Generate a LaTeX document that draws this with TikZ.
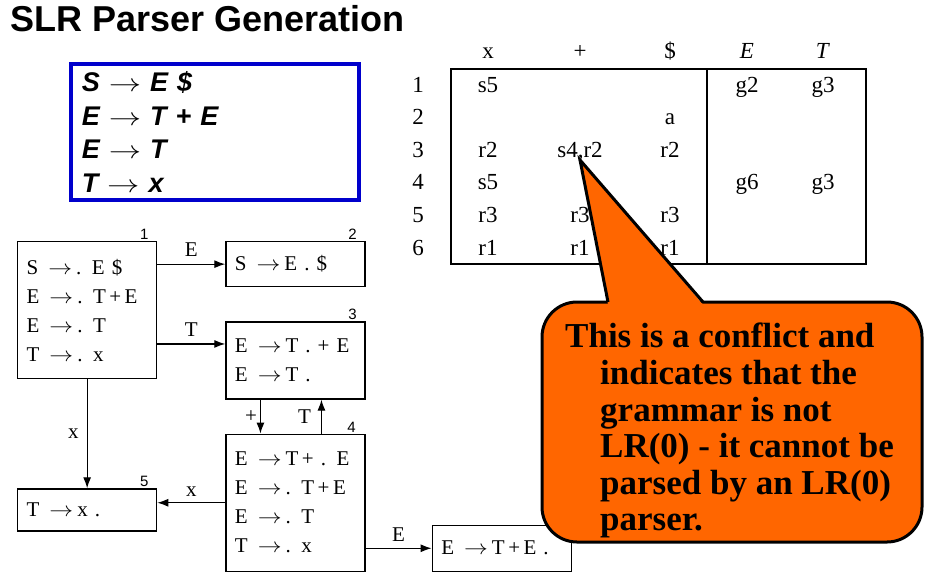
\documentclass[tikz,border=0pt]{standalone}
\usepackage{fontspec}
\setmainfont{Liberation Serif}
\setsansfont{Liberation Sans}
\usepackage{xcolor}
\usetikzlibrary{arrows.meta, positioning}
\definecolor{gramBlue}{RGB}{0,0,204}
\definecolor{noteOrange}{RGB}{255,102,0}
\newcommand{\pto}{\hspace{10pt}\scalebox{1.15}[1]{$\rightarrow$}\hspace{4pt}}
\newcommand{\gto}{\scalebox{1.3}[1]{$\rightarrow$}}

\begin{document}
\begin{tikzpicture}[
    x=1pt, y=-1pt,
    font=\fontsize{21}{29}\selectfont,
    state/.style={draw, line width=1.3pt, text width=121pt, inner xsep=9pt, inner ysep=0pt, align=left, anchor=north west},
    num/.style={font=\fontsize{15}{15}\sffamily, anchor=south, inner sep=1pt},
    lbl/.style={font=\fontsize{21}{21}\selectfont, inner sep=2pt},
    cell/.style={font=\fontsize{23}{23}\selectfont, anchor=base, inner sep=0pt},
    arrow/.style={-{Latex[length=11pt, width=8pt]}, line width=1.2pt}
  ]
    \fill[white] (0,0) rectangle (925,587);
    \node[anchor=base west, inner sep=0pt, font=\fontsize{36}{36}\sffamily\bfseries] (title) at (10,31) {SLR Parser Generation};

    % grammar
    \node[draw=gramBlue, line width=3.5pt, anchor=north west, minimum height=136pt, text width=266pt, inner xsep=11pt, align=left,
      font=\fontsize{27}{33.5}\sffamily\bfseries\itshape] (gram) at (69,62)
      {S \gto{} E \$\\ E \gto{} T + E\\ E \gto{} T\\ T \gto{} x};

    % parse table
    \draw[line width=1.2pt] (451,69) rectangle (866,264);
    \draw[line width=1.2pt] (707,69) -- (707,264);
    \foreach \name/\x/\t in {hx/488/x, hp/580/+, hd/670/\$, hE/747/\textit{E}, hT/823/\textit{T}}
      \node[cell] (\name) at (\x,58) {\t};
    \foreach \i in {1,...,6}
      \node[cell] (row\i) at (418,59.4+32.6*\i) {\i};
    \foreach \i/\x/\t in {1/488/s5, 1/747/g2, 1/823/g3, 2/670/a, 3/488/r2, 3/580/{s4,r2}, 3/670/r2,
        4/488/s5, 4/747/g6, 4/823/g3, 5/488/r3, 5/580/r3, 5/670/r3, 6/488/r1, 6/580/r1, 6/670/r1}
      \node[cell] (c\i-\x) at (\x,59.4+32.6*\i) {\t};

    % LR(0) states
    \node[state, minimum height=137pt] (s1) at (17,241) {S\pto . E \$\\ E\pto . T\,+\,E\\ E\pto . T\\ T\pto . x};
    \node[state, minimum height=45pt, right=68pt of s1.north east, anchor=north west] (s2) {S\pto E . \$};
    \node[state, minimum height=77pt, below=34pt of s2.south west, anchor=north west] (s3) {E\pto T . + E\\ E\pto T .};
    \node[state, minimum height=137pt, below=34pt of s3.south west, anchor=north west] (s4) {E\pto T\,+ . E\\ E\pto . T\,+\,E\\ E\pto . T\\ T\pto . x};
    \node[state, minimum height=42pt, below=109pt of s1.south west, anchor=north west] (s5) {T\pto x .};
    \node[state, minimum height=46pt, right=66pt of s4.south east, anchor=south west] (s6) {E\pto T\,+\,E .};

    \node[num] (n1) at ([xshift=-13pt]s1.north east) {1};
    \node[num] (n2) at ([xshift=-13pt]s2.north east) {2};
    \node[num] (n3) at ([xshift=-13pt]s3.north east) {3};
    \node[num] (n4) at ([xshift=-14pt]s4.north east) {4};
    \node[num] (n5) at ([xshift=-13pt]s5.north east) {5};

    \coordinate (t3) at ([yshift=16.5pt]s3.west);
    \coordinate (pd) at ([xshift=-35pt]s3.south);
    \coordinate (tu) at ([xshift=26pt]s4.north);
    \draw[arrow] (s1.east |- s2.west) -- node[lbl, above=5pt] (eE1) {E} (s2.west);
    \draw[arrow] (s1.east |- t3) -- node[lbl, above=5pt] (eT1) {T} (t3);
    \draw[arrow] (s1.south) -- node[lbl, left=6pt] (ex1) {x} (s5.north);
    \draw[arrow] (pd) -- node[lbl, left=1pt] (eplus) {+} (pd |- s4.north);
    \draw[arrow] (tu) -- node[lbl, left=8pt] (eT2) {T} (tu |- s3.south);
    \draw[arrow] (s4.west) -- node[lbl, above=4pt] (ex2) {x} (s4.west -| s5.east);
    \draw[arrow] (s4.east |- s6.west) -- node[lbl, above=4pt] (eE2) {E} (s6.west);

    % callout
    \draw[fill=noteOrange, line width=3pt, rounded corners=35pt] (542,302) rectangle (922,542);
    \fill[noteOrange] (608,304.5) -- (580,160) -- (703,304.5) -- cycle;
    \draw[line width=3pt] (608,302) -- (580,160) -- (703,302);
    \node[anchor=north west, align=left, inner sep=0pt, font=\fontsize{35}{36.6}\selectfont\bfseries] (note) at (565,323)
      {This is a conflict and\\ \hspace*{35pt}indicates that the\\ \hspace*{35pt}grammar is not\\
       \hspace*{35pt}LR(0) - it cannot be\\ \hspace*{35pt}parsed by an LR(0)\\ \hspace*{35pt}parser.};
  \end{tikzpicture}
\end{document}
